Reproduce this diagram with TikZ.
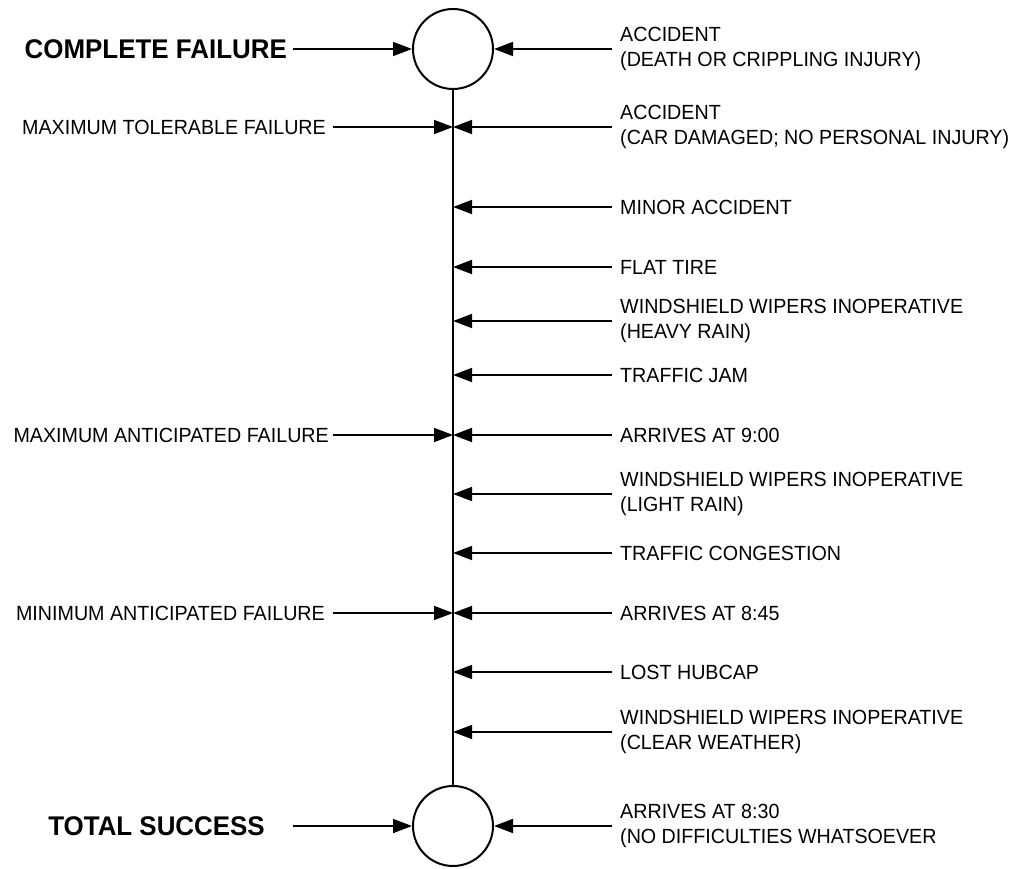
\documentclass[tikz,border=0pt]{standalone}
\usepackage{fontspec}
\setmainfont[FakeStretch=0.96]{Liberation Sans}
\usetikzlibrary{arrows.meta}
\begin{document}
\begin{tikzpicture}[x=1pt,y=-1pt,
  rlbl/.style={font=\fontsize{20.5}{25}\selectfont, align=left, anchor=west, inner xsep=8pt, inner ysep=0pt},
  llbl/.style={font=\fontsize{20.5}{25}\selectfont, anchor=east, inner xsep=5pt, inner ysep=0pt},
  biglbl/.style={font=\fontsize{27}{30}\selectfont\bfseries, anchor=east, inner ysep=0pt},
  endc/.style={circle, draw, line width=2pt, minimum size=80pt, inner sep=0pt},
  arr/.style={line width=1.6pt, -{Triangle[length=19pt,width=14pt]}},
  axisline/.style={line width=2pt}]
\useasboundingbox (0,0) rectangle (1015,869);
% end circles and axis
\node[endc] (top) at (453,49) {};
\node[endc] (bot) at (453,826) {};
\draw[axisline] (top.south) -- (bot.north);
% points on axis
\coordinate (a2) at (453,127);
\coordinate (a3) at (453,207);
\coordinate (a4) at (453,267);
\coordinate (a5) at (453,321);
\coordinate (a6) at (453,375);
\coordinate (a7) at (453,435);
\coordinate (a8) at (453,494);
\coordinate (a9) at (453,553);
\coordinate (a10) at (453,613);
\coordinate (a11) at (453,672);
\coordinate (a12) at (453,732);
% right labels
\node[rlbl] (r1) at (612,49) {ACCIDENT\\(DEATH OR CRIPPLING INJURY)};
\node[rlbl] (r2) at (612,127) {ACCIDENT\\(CAR DAMAGED; NO PERSONAL INJURY)};
\node[rlbl] (r3) at (612,207) {MINOR ACCIDENT};
\node[rlbl] (r4) at (612,267) {FLAT TIRE};
\node[rlbl] (r5) at (612,321) {WINDSHIELD WIPERS INOPERATIVE\\(HEAVY RAIN)};
\node[rlbl] (r6) at (612,375) {TRAFFIC JAM};
\node[rlbl] (r7) at (612,435) {ARRIVES AT 9:00};
\node[rlbl] (r8) at (612,494) {WINDSHIELD WIPERS INOPERATIVE\\(LIGHT RAIN)};
\node[rlbl] (r9) at (612,553) {TRAFFIC CONGESTION};
\node[rlbl] (r10) at (612,613) {ARRIVES AT 8:45};
\node[rlbl] (r11) at (612,672) {LOST HUBCAP};
\node[rlbl] (r12) at (612,732) {WINDSHIELD WIPERS INOPERATIVE\\(CLEAR WEATHER)};
\node[rlbl] (r13) at (612,826) {ARRIVES AT 8:30\\(NO DIFFICULTIES WHATSOEVER};
\draw[arr] (r1.west) -- (top.east);
\draw[arr] (r2.west) -- (a2);
\draw[arr] (r3.west) -- (a3);
\draw[arr] (r4.west) -- (a4);
\draw[arr] (r5.west) -- (a5);
\draw[arr] (r6.west) -- (a6);
\draw[arr] (r7.west) -- (a7);
\draw[arr] (r8.west) -- (a8);
\draw[arr] (r9.west) -- (a9);
\draw[arr] (r10.west) -- (a10);
\draw[arr] (r11.west) -- (a11);
\draw[arr] (r12.west) -- (a12);
\draw[arr] (r13.west) -- (bot.east);
% left labels
\node[biglbl, inner xsep=6pt] (l1) at (293,49) {COMPLETE FAILURE};
\node[llbl, inner xsep=7pt] (l2) at (333,127) {MAXIMUM TOLERABLE FAILURE};
\node[llbl, inner xsep=4pt] (l7) at (333,435) {MAXIMUM ANTICIPATED FAILURE};
\node[llbl, inner xsep=8pt] (l10) at (333,613) {MINIMUM ANTICIPATED FAILURE};
\node[biglbl, inner xsep=28pt] (l13) at (293,826) {TOTAL SUCCESS};
\draw[arr] (l1.east) -- (top.west);
\draw[arr] (l2.east) -- (a2);
\draw[arr] (l7.east) -- (a7);
\draw[arr] (l10.east) -- (a10);
\draw[arr] (l13.east) -- (bot.west);
\end{tikzpicture}
\end{document}
